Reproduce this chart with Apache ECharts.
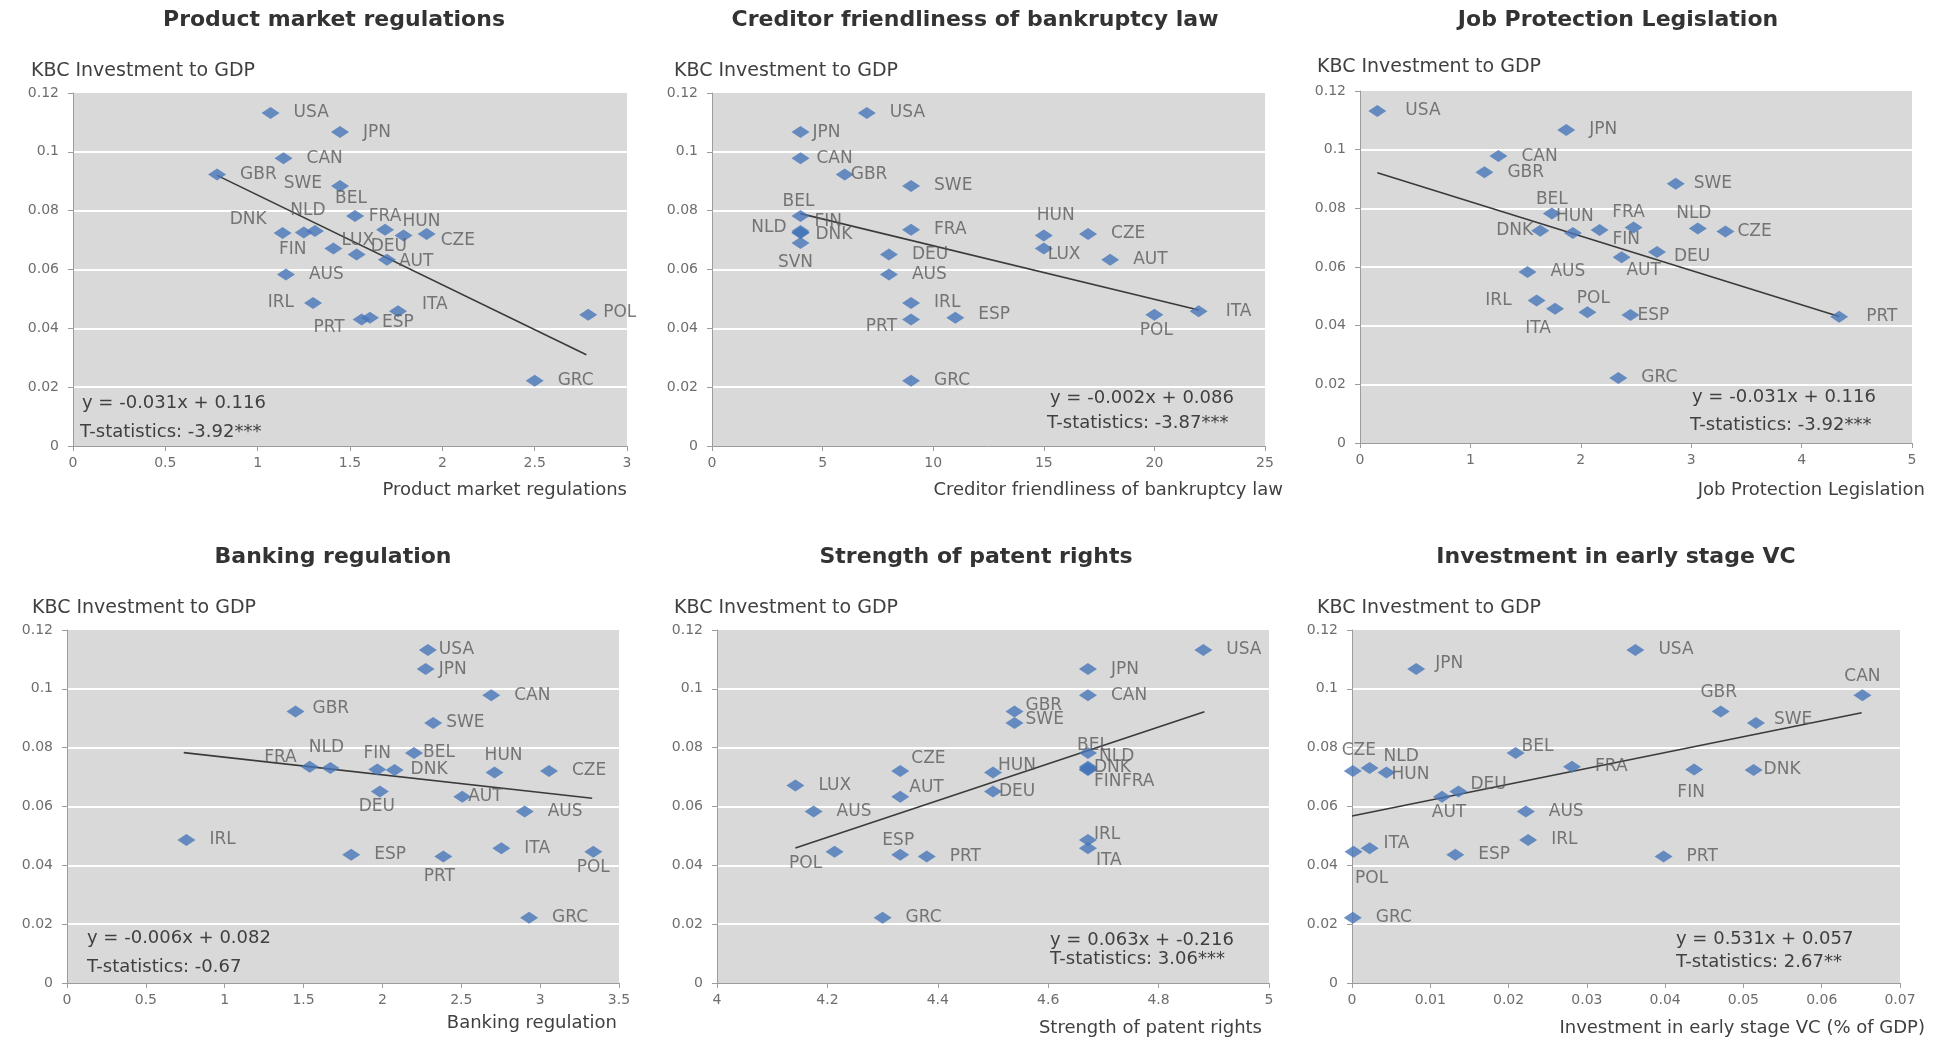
<!DOCTYPE html>
<html>
<head>
<meta charset="utf-8">
<script src="https://cdn.jsdelivr.net/npm/echarts@6/dist/echarts.min.js"></script>
<style>
html, body { margin: 0; padding: 0; background: #fff; }
#main { width: 1937px; height: 1040px; }
</style>
</head>
<body>
<div id="main"></div>
<script>
// country order shared by every panel
var countries = ['USA', 'JPN', 'CAN', 'GBR', 'SWE', 'BEL', 'FRA', 'NLD', 'CZE', 'FIN', 'DNK', 'HUN',
                 'LUX', 'DEU', 'AUT', 'AUS', 'IRL', 'ITA', 'POL', 'ESP', 'PRT', 'GRC', 'SVN'];
// y: KBC investment to GDP
var kbc = [0.1132, 0.1067, 0.0978, 0.0923, 0.0884, 0.0782, 0.0735, 0.0731, 0.0721, 0.0726, 0.0724, 0.0716,
           0.0671, 0.0651, 0.0633, 0.0583, 0.0486, 0.0458, 0.0446, 0.0436, 0.0430, 0.0222, 0.0690];

// x values per panel (null = not in that panel)
var pmr = [1.07, 1.446, 1.14, 0.78, 1.446, 1.527, 1.69, 1.31, 1.915, 1.25, 1.135, 1.79,
           1.41, 1.536, 1.70, 1.153, 1.30, 1.76, 2.79, 1.608, 1.563, 2.50, null];
var creditor = [7, 4, 4, 6, 9, 4, 9, 4, 17, 4, 4, 15,
                15, 8, 18, 8, 9, 22, 20, 11, 9, 9, 4];
var jobProt = [0.157, 1.868, 1.254, 1.127, 2.86, 1.738, 2.478, 3.06, 3.31, 2.17, 1.632, 1.928,
               null, 2.69, 2.37, 1.517, 1.60, 1.767, 2.06, 2.45, 4.34, 2.34, null];
var banking = [2.288, 2.274, 2.69, 1.449, 2.322, 2.20, 1.539, 1.67, 3.056, 1.967, 2.077, 2.711,
               null, 1.984, 2.506, 2.902, 0.757, 2.754, 3.337, 1.802, 2.386, 2.93, null];
var patent = [4.881, 4.672, 4.672, 4.539, 4.539, 4.672, 4.672, 4.672, 4.332, 4.672, 4.672, 4.50,
              4.142, 4.50, 4.332, 4.175, 4.672, 4.672, 4.213, 4.332, 4.38, 4.30, null];
var earlyVc = [0.0362, 0.0082, 0.0652, 0.0471, 0.0516, 0.0209, 0.0281, 0.00225, 0.0001, 0.0437, 0.0513, 0.0044,
               null, 0.0136, 0.0115, 0.0222, 0.0225, 0.00225, 0.0002, 0.0132, 0.0398, 0.0001, null];

// fitted lines as drawn (end points)
var trendPmr = [[0.78, 0.092], [2.78, 0.031]];
var trendCreditor = [[4, 0.079], [22, 0.0462]];
var trendJob = [[0.157, 0.0921], [4.34, 0.0431]];
var trendBanking = [[0.74, 0.0783], [3.33, 0.0628]];
var trendPatent = [[4.142, 0.0459], [4.883, 0.0922]];
var trendVc = [[0, 0.0568], [0.0651, 0.0919]];

var titles = ['Product market regulations', 'Creditor friendliness of bankruptcy law', 'Job Protection Legislation',
              'Banking regulation', 'Strength of patent rights', 'Investment in early stage VC'];
var xNames = ['Product market regulations', 'Creditor friendliness of bankruptcy law', 'Job Protection Legislation',
              'Banking regulation', 'Strength of patent rights', 'Investment in early stage VC (% of GDP)'];
var equations = ['y = -0.031x + 0.116', 'y = -0.002x + 0.086', 'y = -0.031x + 0.116',
                 'y = -0.006x + 0.082', 'y = 0.063x + -0.216', 'y = 0.531x + 0.057'];
var tStats = ['T-statistics: -3.92***', 'T-statistics: -3.87***', 'T-statistics: -3.92***',
              'T-statistics: -0.67', 'T-statistics: 3.06***', 'T-statistics: 2.67**'];
var xMin = [0, 0, 0, 0, 4, 0];
var xMax = [3, 25, 5, 3.5, 5, 0.07];
var xStep = [0.5, 5, 1, 0.5, 0.2, 0.01];
var yTicks = [0, 0.02, 0.04, 0.06, 0.08, 0.1, 0.12];

var xs = [pmr, creditor, jobProt, banking, patent, earlyVc];
var trends = [trendPmr, trendCreditor, trendJob, trendBanking, trendPatent, trendVc];

// layout only: grid box, title, y name, x name, equation, t-stat anchors + label placement
var layout = [
    { grid: [73, 93, 554, 353], title: [334, 20], yName: [31, 71], xName: [627, 490], eq: [82, 403], ts: [80, 432],
      labels: { SWE: ['left', -5, -2], BEL: ['top', -4, 1], FRA: ['top', 0, 5], HUN: ['top', 18, 5], CZE: ['right', 1, 7],
                LUX: ['right', -5, -8], DEU: ['right', 1, -8], AUT: ['right', -1, 2], DNK: ['left', -3, -13],
                FIN: ['bottom', -11, -1], NLD: ['top', -7, -2], IRL: ['left', -6, 0], PRT: ['left', -4, 8],
                ESP: ['right', -1, 5], ITA: ['right', 11, -7], POL: ['right', 2, -2] } },
    { grid: [712, 93, 553, 353], title: [975, 20], yName: [674, 71], xName: [1283, 490], eq: [1050, 398], ts: [1047, 423],
      labels: { JPN: ['right', -1, 0], CAN: ['right', 3, 0], GBR: ['right', -7, 0], BEL: ['top', -2, 4],
                NLD: ['left', -1, -3], FIN: ['right', 1, -11], DNK: ['right', 2, 2], SVN: ['bottom', -5, 1],
                PRT: ['left', -1, 7], ESP: ['right', 10, -3], HUN: ['top', 12, -1], LUX: ['right', -9, 6],
                POL: ['bottom', 2, -3], ITA: ['right', 14, 0] } },
    { grid: [1360, 91, 552, 352], title: [1618, 20], yName: [1317, 67], xName: [1925, 490], eq: [1692, 397], ts: [1690, 425],
      labels: { USA: ['right', 15, 0], BEL: ['top', 0, 4], HUN: ['top', 2, 2], DNK: ['left', 6, 0], FIN: ['right', 0, 10],
                FRA: ['top', -5, 4], AUT: ['bottom', 22, -5], DEU: ['right', 4, 5], NLD: ['top', -4, 4],
                CZE: ['right', -1, 0], SWE: ['right', 5, 0], IRL: ['left', -12, 0], ITA: ['bottom', -17, 1],
                POL: ['top', 6, 5], ESP: ['right', -6, 0], PRT: ['right', 14, 0] } },
    { grid: [67, 630, 552, 353], title: [333, 557], yName: [32, 608], xName: [617, 1023], eq: [87, 938], ts: [87, 967],
      labels: { GBR: ['right', 4, -3], FRA: ['left', 0, -9], NLD: ['top', -4, -2], FIN: ['top', 0, 3], DNK: ['right', 3, 0],
                BEL: ['right', -4, 0], DEU: ['bottom', -3, -3], USA: ['right', -2, 0], JPN: ['right', 0, 0],
                SWE: ['right', 0, 0], HUN: ['top', 9, 2], AUT: ['right', -7, 0], PRT: ['bottom', -4, 2],
                POL: ['bottom', 0, -3] } },
    { grid: [717, 630, 552, 353], title: [976, 557], yName: [674, 608], xName: [1262, 1028], eq: [1050, 940], ts: [1050, 959],
      labels: { POL: ['bottom', -29, -7], CZE: ['right', -2, -12], AUT: ['right', -4, -9], ESP: ['top', -2, 4],
                HUN: ['right', -8, -7], DEU: ['right', -7, 0], GBR: ['right', -2, -6], SWE: ['right', -2, -3],
                BEL: ['top', 5, 11], NLD: ['right', -2, -11], DNK: ['right', -7, -2], FIN: ['right', -7, 12],
                FRA: ['right', 21, 15], IRL: ['right', -7, -5], ITA: ['right', -5, 12] } },
    { grid: [1352, 630, 548, 353], title: [1616, 557], yName: [1317, 608], xName: [1925, 1028], eq: [1676, 939], ts: [1676, 962],
      labels: { JPN: ['right', 6, -6], CZE: ['top', 6, -2], NLD: ['right', 1, -11], HUN: ['right', -8, 2],
                ITA: ['right', 1, -5], POL: ['bottom', 18, 8], AUT: ['bottom', 7, -3], DEU: ['right', -1, -7],
                BEL: ['right', -7, -6], GBR: ['top', -2, 0], SWE: ['right', 5, -3], CAN: ['top', 0, 0],
                FIN: ['bottom', -3, 5], DNK: ['right', -3, 0] } }
];

var FONT = '"DejaVu Sans", Verdana, sans-serif';
var AXIS_COLOR = '#9c9c9c';

function tickFmt(v) {
    return String(parseFloat(v.toFixed(4)));
}

function textEl(x, y, str, size, color, align, bold) {
    return {
        type: 'text',
        x: x,
        y: y,
        silent: true,
        style: {
            text: str,
            fill: color,
            font: (bold ? 'bold ' : '') + size + 'px ' + FONT,
            textAlign: align,
            textVerticalAlign: 'middle'
        }
    };
}

// label nudges go through labelLayout (dx / dy per point)
function makeLabelLayout(specs) {
    return function(params) {
        var s = specs[params.dataIndex];
        return { dx: s[1], dy: s[2], hideOverlap: false };
    };
}

var grids = [], xAxes = [], yAxes = [], series = [], graphics = [];

for (var p = 0; p < 6; p++) {
    var L = layout[p];
    grids.push({
        left: L.grid[0], top: L.grid[1], width: L.grid[2], height: L.grid[3],
        show: true, backgroundColor: '#d9d9d9', borderWidth: 0, containLabel: false
    });
    xAxes.push({
        type: 'value', gridIndex: p, min: xMin[p], max: xMax[p], interval: xStep[p],
        axisLine: { show: true, onZero: false, lineStyle: { color: AXIS_COLOR, width: 1 } },
        axisTick: { show: true, length: 5, lineStyle: { color: AXIS_COLOR } },
        splitLine: { show: false },
        axisLabel: { color: '#6e6e6e', fontSize: 14, fontFamily: FONT, margin: 10, formatter: tickFmt }
    });
    yAxes.push({
        type: 'value', gridIndex: p, min: yTicks[0], max: yTicks[yTicks.length - 1], interval: 0.02,
        axisLine: { show: true, onZero: false, lineStyle: { color: AXIS_COLOR, width: 1 } },
        axisTick: { show: true, length: 5, lineStyle: { color: AXIS_COLOR } },
        splitLine: { show: true, showMinLine: false, showMaxLine: false, lineStyle: { color: '#ffffff', width: 2 } },
        axisLabel: { color: '#6e6e6e', fontSize: 14, fontFamily: FONT, margin: 14, formatter: tickFmt }
    });

    var pts = [], specs = [];
    for (var i = 0; i < countries.length; i++) {
        if (xs[p][i] == null) continue;
        var spec = L.labels[countries[i]] || ['right', 10, 0];
        specs.push(spec);
        pts.push({
            name: countries[i],
            value: [xs[p][i], kbc[i]],
            label: { position: spec[0] }
        });
    }

    series.push({
        type: 'line', xAxisIndex: p, yAxisIndex: p, data: trends[p],
        showSymbol: false, symbol: 'none', silent: true, z: 2,
        lineStyle: { color: '#3a3a3a', width: 1.6 }
    });
    series.push({
        type: 'scatter', xAxisIndex: p, yAxisIndex: p, data: pts, z: 3,
        symbol: 'diamond', symbolSize: [18, 12],
        itemStyle: { color: '#4676b9' },
        label: {
            show: true, formatter: '{b}', distance: 4,
            color: '#5a5a5a', fontSize: 17, fontFamily: FONT
        },
        labelLayout: makeLabelLayout(specs)
    });

    graphics.push(textEl(L.title[0], L.title[1], titles[p], 22, '#333333', 'center', true));
    graphics.push(textEl(L.yName[0], L.yName[1], 'KBC Investment to GDP', 19, '#404040', 'left', false));
    graphics.push(textEl(L.xName[0], L.xName[1], xNames[p], 18, '#404040', 'right', false));
    graphics.push(textEl(L.eq[0], L.eq[1], equations[p], 18, '#404040', 'left', false));
    graphics.push(textEl(L.ts[0], L.ts[1], tStats[p], 18, '#404040', 'left', false));
}

var chart = echarts.init(document.getElementById('main'));
chart.setOption({
    backgroundColor: '#ffffff',
    animation: false,
    grid: grids,
    xAxis: xAxes,
    yAxis: yAxes,
    series: series,
    graphic: { elements: graphics }
});
</script>
</body>
</html>
